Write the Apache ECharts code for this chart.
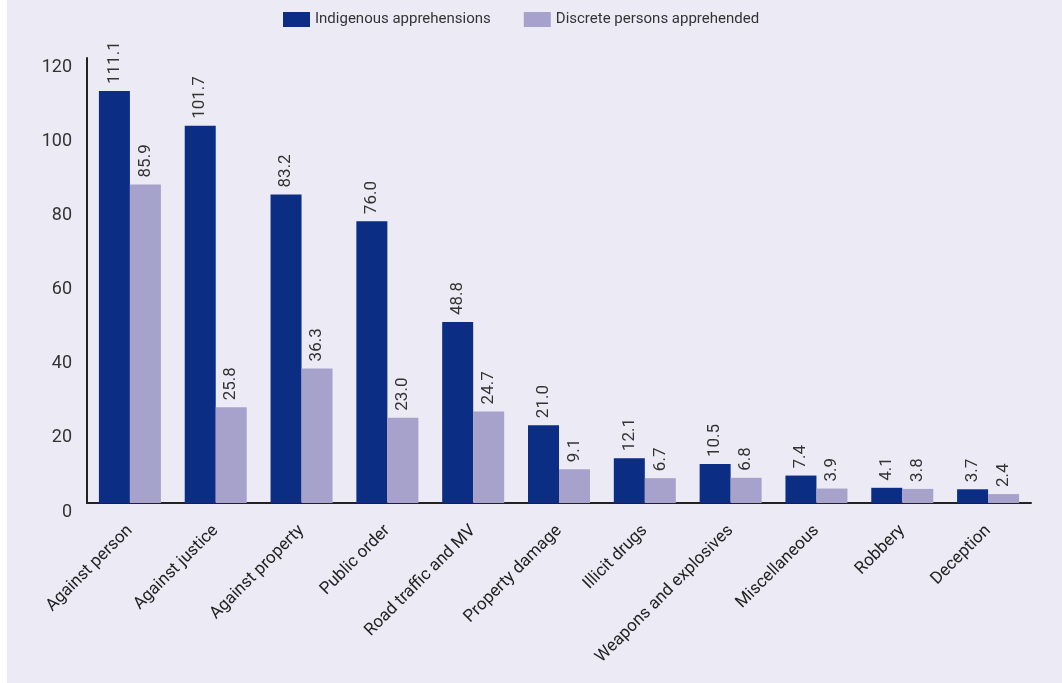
<!DOCTYPE html>
<html>
<head>
<meta charset="utf-8">
<script src="https://cdn.jsdelivr.net/npm/echarts@6/dist/echarts.min.js"></script>
<style>
  html, body { margin: 0; padding: 0; background: #ffffff; }
  #chart { position: absolute; left: 7px; top: 0; width: 1055px; height: 683px; }
</style>
</head>
<body>
<div id="chart"></div>
<script>
const categories = ["Against person", "Against justice", "Against property", "Public order", "Road traffic and MV", "Property damage", "Illicit drugs", "Weapons and explosives", "Miscellaneous", "Robbery", "Deception"];
const indigenousApprehensions = [111.1, 101.7, 83.2, 76.0, 48.8, 21.0, 12.1, 10.5, 7.4, 4.1, 3.7];
const discretePersons = [85.9, 25.8, 36.3, 23.0, 24.7, 9.1, 6.7, 6.8, 3.9, 3.8, 2.4];
const seriesNames = ["Indigenous apprehensions", "Discrete persons apprehended"];

const FONT = "Roboto, 'Liberation Sans', sans-serif";
const chart = echarts.init(document.getElementById('chart'));

const labelCfg = {
  show: true,
  position: 'top',
  rotate: 90,
  align: 'left',
  verticalAlign: 'middle',
  distance: 7,
  color: '#333333',
  fontFamily: FONT,
  fontSize: 17,
  formatter: p => p.value.toFixed(1)
};

chart.setOption({
  backgroundColor: '#ecebf5',
  animation: false,
  legend: {
    top: 7,
    left: 271,
    itemWidth: 27,
    itemHeight: 15,
    itemGap: 33,
    icon: 'rect',
    textStyle: { fontFamily: FONT, fontSize: 15, color: '#333333' },
    data: seriesNames
  },
  grid: { left: 80, right: 31, top: 58, bottom: 180, containLabel: false },
  xAxis: {
    type: 'category',
    data: categories,
    axisLine: { lineStyle: { color: '#222222', width: 2 } },
    axisTick: { show: false },
    axisLabel: {
      interval: 0,
      rotate: 45,
      margin: 25,
      color: '#222222',
      fontFamily: FONT,
      fontSize: 17
    }
  },
  yAxis: {
    type: 'value',
    min: 0,
    max: 120,
    interval: 20,
    splitLine: { show: false },
    axisLine: { show: true, lineStyle: { color: '#222222', width: 2 } },
    axisTick: { show: false },
    axisLabel: {
      margin: 15,
      verticalAlign: 'top',
      color: '#333333',
      fontFamily: FONT,
      fontSize: 18
    }
  },
  series: [
    {
      name: seriesNames[0],
      type: 'bar',
      data: indigenousApprehensions,
      barWidth: 31,
      barGap: '0%',
      itemStyle: { color: '#0b2d84' },
      label: labelCfg
    },
    {
      name: seriesNames[1],
      type: 'bar',
      data: discretePersons,
      barWidth: 31,
      barGap: '0%',
      itemStyle: { color: '#a6a2cb' },
      label: labelCfg
    }
  ]
});
</script>
</body>
</html>
